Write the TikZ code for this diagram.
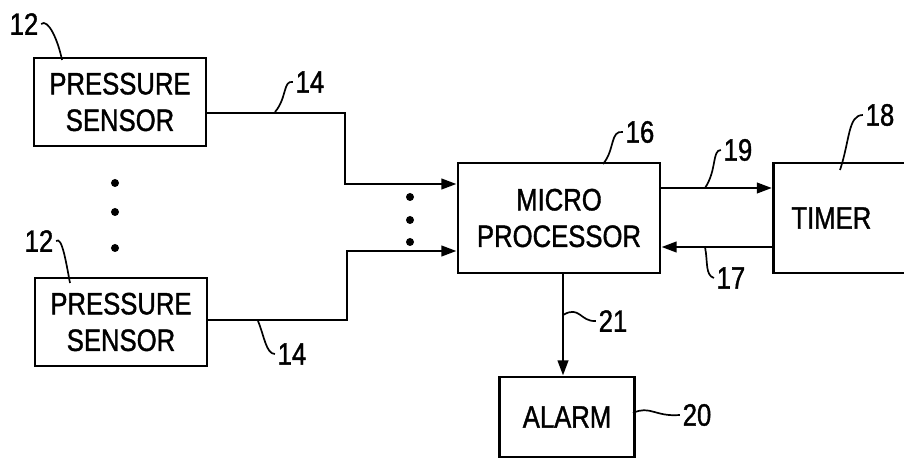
\documentclass[tikz,border=0pt]{standalone}
\usepackage{fontspec}
\setmainfont{Liberation Sans}[FakeStretch=0.83,FakeBold=1.2]
\usetikzlibrary{arrows.meta}
\begin{document}
\begin{tikzpicture}[x=0.025cm,y=-0.025cm,line width=2pt,>={Triangle[length=0.38cm,width=0.26cm]},
  box/.style={draw,align=center,inner sep=0pt,font=\fontsize{22}{26}\selectfont},
  num/.style={inner sep=1pt,font=\fontsize{22}{26}\selectfont},
  lead/.style={line width=1.2pt}]
  \useasboundingbox (0,0) rectangle (904,459);
  \node[box,minimum width=4.3cm,minimum height=2.2cm] (sensA) at (120,102) {PRESSURE\\SENSOR};
  \node[box,minimum width=4.3cm,minimum height=2.2cm] (sensB) at (121,322) {PRESSURE\\SENSOR};
  \node[box,minimum width=5.05cm,minimum height=2.75cm] (micro) at (559,218) {MICRO\\PROCESSOR};
  \node[box,anchor=west,text width=3.8cm,align=left,inner xsep=0.45cm,minimum height=2.75cm] (timer) at (772,218) {TIMER};
  \node[box,minimum width=3.375cm,minimum height=2cm] (alarm) at (567,417) {ALARM};
  \foreach \y in {183,212,248} \fill (115,\y) circle (0.1cm);
  \foreach \y in {197,220,242} \fill (410,\y) circle (0.1cm);
  \coordinate (bendA1) at (345,113);
  \coordinate (bendA2) at (345,184);
  \coordinate (bendB1) at (347,320);
  \coordinate (bendB2) at (347,251);
  \draw[->] (sensA.east |- bendA1) -- (bendA1) -- (bendA2) -- (bendA2 -| micro.west);
  \draw[->] (sensB.east |- bendB1) -- (bendB1) -- (bendB2) -- (bendB2 -| micro.west);
  \coordinate (sig19) at (0,188);
  \coordinate (sig17) at (0,247);
  \coordinate (sig21) at (563,0);
  \draw[->] (micro.east |- sig19) -- (timer.west |- sig19);
  \draw[->] (timer.west |- sig17) -- (micro.east |- sig17);
  \draw[->] (micro.south -| sig21) -- (alarm.north -| sig21);
  \node[num] (numA) at (24,24) {12};
  \node[num] (numB) at (39,241) {12};
  \node[num] (lineA) at (310,82) {14};
  \node[num] (lineB) at (292,354) {14};
  \node[num] (numMicro) at (640,132) {16};
  \node[num] (numTimer) at (880,115) {18};
  \node[num] (num19) at (738,150) {19};
  \node[num] (num17) at (731,278) {17};
  \node[num] (num21) at (613,321) {21};
  \node[num] (num20) at (697,415) {20};
  \coordinate (tipA) at (62,60);
  \coordinate (tipB) at (70,283);
  \coordinate (tip14a) at (275,112);
  \coordinate (tip14b) at (258,321);
  \coordinate (tip16) at (603,164);
  \coordinate (tip18) at (840,170);
  \coordinate (tip19) at (705,188);
  \coordinate (tip17) at (705,247);
  \coordinate (tip21) at (563,315);
  \coordinate (tip20) at (633,413);
  \draw[lead] (numA.east) .. controls (48,18) and (58,40) .. (tipA);
  \draw[lead] (numB.east) .. controls (62,236) and (66,262) .. (tipB);
  \draw[lead] (tip14a) .. controls (287,98) and (283,80) .. (lineA.west);
  \draw[lead] (tip14b) .. controls (264,335) and (266,354) .. (lineB.west);
  \draw[lead] (tip16) .. controls (615,150) and (610,130) .. (numMicro.west);
  \draw[lead] (tip18) .. controls (850,140) and (848,115) .. (numTimer.west);
  \draw[lead] (tip19) .. controls (717,170) and (712,150) .. (num19.west);
  \draw[lead] (tip17) .. controls (708,262) and (705,275) .. (num17.west);
  \draw[lead] (tip21) .. controls (580,305) and (580,322) .. (num21.west);
  \draw[lead] (tip20) .. controls (650,405) and (655,417) .. (num20.west);
\end{tikzpicture}
\end{document}
